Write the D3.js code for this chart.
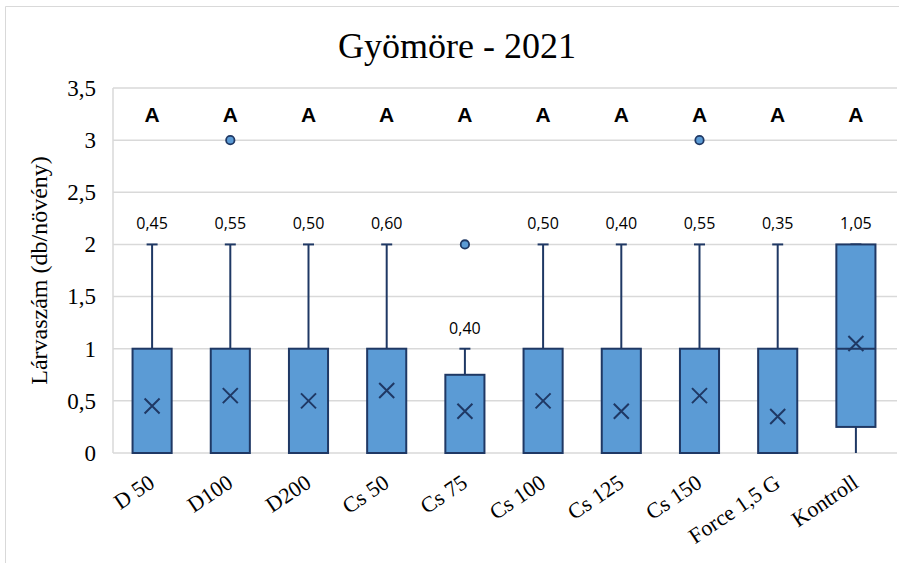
<!DOCTYPE html>
<html><head><meta charset="utf-8">
<script src="https://cdn.jsdelivr.net/npm/d3@7"></script>
<style>body{margin:0;background:#fff}svg{display:block}</style>
</head><body>
<script>
const categories = ["D 50","D100","D200","Cs 50","Cs 75","Cs 100","Cs 125","Cs 150","Force 1,5 G","Kontroll"];
const whiskerMin = [0,0,0,0,0,0,0,0,0,0];
const q1 = [0,0,0,0,0,0,0,0,0,0.25];
const median = [0,0,0,0,0,0,0,0,0,1];
const q3 = [1,1,1,1,0.75,1,1,1,1,2];
const whiskerMax = [2,2,2,2,1,2,2,2,2,2];
const means = [0.45,0.55,0.50,0.60,0.40,0.50,0.40,0.55,0.35,1.05];
const outliers = [[],[3],[],[],[2],[],[],[3],[],[]];
const letters = ["A","A","A","A","A","A","A","A","A","A"];
const yTicks = [0,0.5,1,1.5,2,2.5,3,3.5];

const W=909,H=563;
const m={left:113,right:14,top:88,bottom:110};
const navy="#1F3864", fill="#5B9BD5", grid="#D9D9D9";
const svg=d3.select("body").append("svg").attr("width",W).attr("height",H);
svg.append("path").attr("d",`M5.5,563 V6.5 H899`).attr("fill","none").attr("stroke","#D9D9D9").attr("stroke-width",1);

const x=d3.scaleBand().domain(categories).range([m.left,W-m.right]).paddingInner(0).paddingOuter(0);
const y=d3.scaleLinear().domain([0,3.5]).range([H-m.bottom,m.top]);
const fmt=v=>d3.format(".1f")(v).replace(".",",");
const fmt2=v=>d3.format(".2f")(v).replace(".",",");

svg.append("g").selectAll("line").data(yTicks).join("line")
 .attr("x1",m.left).attr("x2",W-12).attr("y1",d=>y(d)).attr("y2",d=>y(d))
 .attr("stroke",grid).attr("stroke-width",1.5);
svg.append("line").attr("x1",m.left).attr("x2",m.left).attr("y1",y(3.5)).attr("y2",y(0)).attr("stroke",grid).attr("stroke-width",1.5);

const yAxis=d3.axisLeft(y).tickValues(yTicks).tickSize(0).tickPadding(17).tickFormat(d=>Number.isInteger(d)?String(d):fmt(d));
const ga=svg.append("g").attr("transform",`translate(${m.left},0)`).call(yAxis);
ga.select(".domain").remove();
ga.selectAll("text").attr("font-family","Liberation Serif").attr("font-size",23).attr("fill","#000");

svg.append("text").attr("x",457).attr("y",58).attr("text-anchor","middle").attr("font-family","Liberation Serif").attr("font-size",36).attr("fill","#000").text("Gyömöre - 2021");
svg.append("text").attr("transform",`translate(47,${(y(0)+y(3.5))/2}) rotate(-90)`).attr("text-anchor","middle").attr("font-family","Liberation Serif").attr("font-size",24).attr("fill","#000").text("Lárvaszám (db/növény)");

const xAxis=d3.axisBottom(x).tickSize(0).tickPadding(0);
const gx=svg.append("g").attr("transform",`translate(0,${y(0)})`).call(xAxis);
gx.select(".domain").remove();
gx.selectAll("text").attr("font-family","Liberation Serif").attr("font-size",22).attr("fill","#000")
 .attr("text-anchor","end").attr("dy",0).attr("transform","translate(4,33) rotate(-34)");

const bw=x.bandwidth()*0.5;
const cap=11;
const g=svg.append("g");
categories.forEach((c,i)=>{
  const cx=x(c)+x.bandwidth()/2;
  g.append("line").attr("x1",cx).attr("x2",cx).attr("y1",y(q3[i])).attr("y2",y(whiskerMax[i])).attr("stroke",navy).attr("stroke-width",2);
  g.append("line").attr("x1",cx-cap/2).attr("x2",cx+cap/2).attr("y1",y(whiskerMax[i])).attr("y2",y(whiskerMax[i])).attr("stroke",navy).attr("stroke-width",2);
  if(whiskerMin[i]<q1[i]){
    g.append("line").attr("x1",cx).attr("x2",cx).attr("y1",y(q1[i])).attr("y2",y(whiskerMin[i])).attr("stroke",navy).attr("stroke-width",2);
  }
  g.append("rect").attr("x",cx-bw/2).attr("width",bw).attr("y",y(q3[i])).attr("height",y(q1[i])-y(q3[i]))
   .attr("fill",fill).attr("stroke",navy).attr("stroke-width",2);
  if(median[i]>q1[i]&&median[i]<q3[i]){
    g.append("line").attr("x1",cx-bw/2).attr("x2",cx+bw/2).attr("y1",y(median[i])).attr("y2",y(median[i])).attr("stroke",navy).attr("stroke-width",2);
  }
  const my=y(means[i]),s=7.5;
  g.append("path").attr("d",`M${cx-s},${my-s}L${cx+s},${my+s}M${cx-s},${my+s}L${cx+s},${my-s}`).attr("stroke",navy).attr("stroke-width",2).attr("fill","none");
  outliers[i].forEach(o=>{
    g.append("circle").attr("cx",cx).attr("cy",y(o)).attr("r",4.2).attr("fill",fill).attr("stroke",navy).attr("stroke-width",1.8);
  });
  g.append("text").attr("x",cx).attr("y",y(whiskerMax[i])-15).attr("text-anchor","middle")
   .attr("font-family","Open Sans").attr("font-size",16).attr("fill","#000").text(fmt2(means[i]));
  g.append("text").attr("x",cx).attr("y",122).attr("text-anchor","middle")
   .attr("font-family","Liberation Sans").attr("font-weight","bold").attr("font-size",21).attr("fill","#000").text(letters[i]);
});
</script>
</body></html>
